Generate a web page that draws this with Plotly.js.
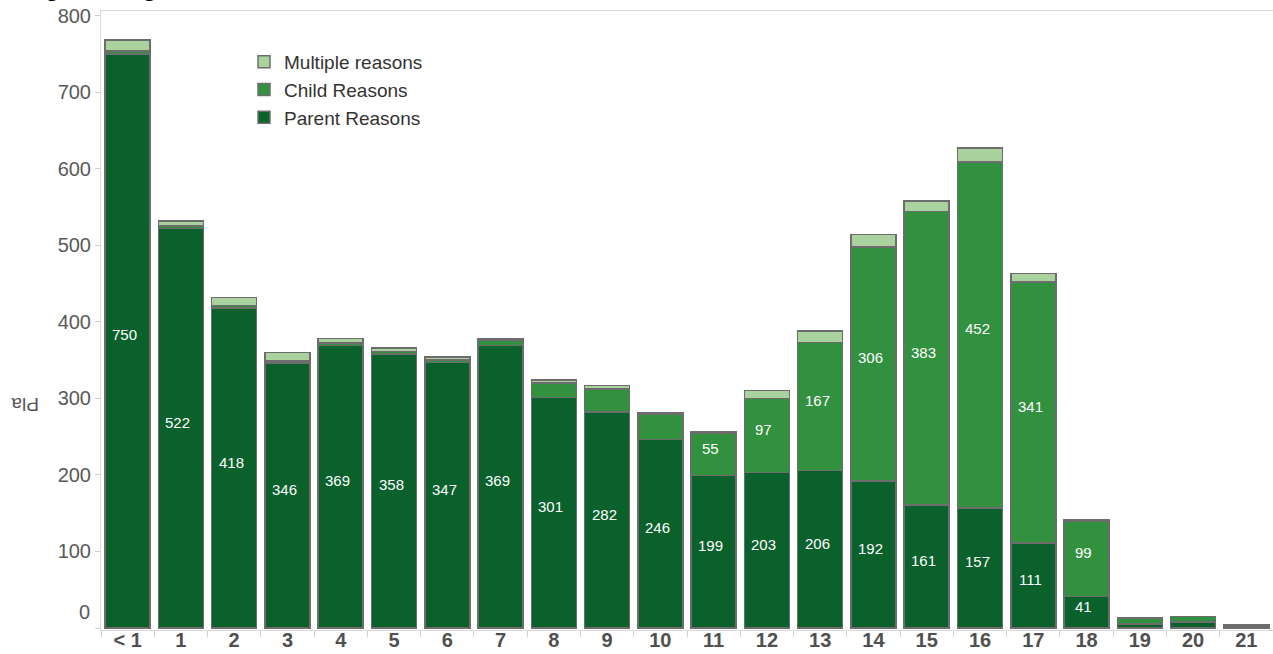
<!DOCTYPE html>
<html>
<head>
<meta charset="utf-8">
<script src="https://cdn.plot.ly/plotly-3.0.1.min.js"></script>
<style>
  html, body { margin: 0; padding: 0; background: #fff; }
  #chart { width: 1273px; height: 654px; }
</style>
</head>
<body>
<div id="chart"></div>
<script>
// ---- data ----
const ages = ["< 1", "1", "2", "3", "4", "5", "6", "7", "8", "9", "10",
              "11", "12", "13", "14", "15", "16", "17", "18", "19", "20", "21"];
const parentReasons   = [750, 522, 418, 346, 369, 358, 347, 369, 301, 282, 246,
                         199, 203, 206, 192, 161, 157, 111, 41, 5, 8, 2];
const childReasons    = [4, 3, 3, 3, 3, 3, 3, 7, 19, 30, 33,
                         55, 97, 167, 306, 383, 452, 341, 99, 8, 7, 1];
const multipleReasons = [14, 7, 11, 11, 6, 5, 4, 2, 4, 5, 2,
                         2, 10, 15, 16, 14, 18, 11, 1, 0, 0, 1];
const tickValsY = [0, 100, 200, 300, 400, 500, 600, 700, 800];
const tickTextY = ["", "100", "200", "300", "400", "500", "600", "700", "800"];
const titleText = "Stage and age";
const yTitleText = "Pla";

// ---- styling ----
const FONT = "Arial, Liberation Sans, sans-serif";
const colParent = "#0a612c";
const colChild = "#32913f";
const colMultiple = "#a9d29f";
const outline = { color: "#6d6d6d", width: 1.5 };

function barTrace(name, vals, color) {
  return {
    type: "bar", name: name, x: ages, y: vals,
    marker: { color: color, line: outline },
    hoverinfo: "x+y+name"
  };
}

const traces = [
  barTrace("Parent Reasons", parentReasons, colParent),
  barTrace("Child Reasons", childReasons, colChild),
  barTrace("Multiple reasons", multipleReasons, colMultiple)
];

const L = 101, T = 11, B = 24, W = 1273, H = 654;
const pw = W - L, ph = H - T - B;
const px2x = (px) => (px - L) / pw;
const px2y = (py) => (H - B - py) / ph;

// value labels, placed from the data through the axes
const annotations = [];
ages.forEach((a, i) => {
  if (parentReasons[i] >= 40) {
    annotations.push({ x: a, y: parentReasons[i] / 2, xref: "x", yref: "y",
      text: String(parentReasons[i]), showarrow: false, xshift: -3, yshift: 6,
      font: { family: FONT, size: 15, color: "#ffffff" } });
  }
  if (childReasons[i] >= 50) {
    annotations.push({ x: a, y: parentReasons[i] + childReasons[i] / 2, xref: "x", yref: "y",
      text: String(childReasons[i]), showarrow: false, xshift: -3, yshift: 6,
      font: { family: FONT, size: 15, color: "#ffffff" } });
  }
});
// shifted "0" tick label
annotations.push({ x: 0, xref: "paper", y: 0, yref: "y", xanchor: "right", yanchor: "middle",
  xshift: -9, yshift: 16, text: "0", showarrow: false,
  font: { family: FONT, size: 20, color: "#595959" } });
// clipped, upside-down axis title
annotations.push({ x: px2x(9), xref: "paper", y: px2y(405), yref: "paper", text: yTitleText,
  showarrow: false, textangle: 180,
  font: { family: FONT, size: 19, color: "#555555" } });
// chart title, pushed almost entirely above the page (only descenders show)
annotations.push({ x: px2x(6), xref: "paper", xanchor: "left", y: px2y(-12.5), yref: "paper",
  yanchor: "middle", text: titleText, showarrow: false,
  font: { family: FONT, size: 24, weight: "bold", color: "#000000" } });

const layout = {
  width: W, height: H,
  margin: { l: L, r: 0, t: T, b: B, pad: 0 },
  paper_bgcolor: "#ffffff", plot_bgcolor: "#ffffff",
  barmode: "stack", bargap: 0.155,
  font: { family: FONT, color: "#555555" },
  xaxis: {
    type: "category", range: [-0.5, ages.length - 0.5],
    showline: true, linecolor: "#d9d9d9", linewidth: 1, mirror: true,
    ticks: "outside", tickson: "boundaries", ticklen: 6, tickcolor: "#d0d0d0",
    ticklabelstandoff: -8,
    tickfont: { family: FONT, size: 20, weight: "bold", color: "#505050" },
    showgrid: false, zeroline: false, fixedrange: true
  },
  yaxis: {
    range: [-2.6, 806], showgrid: false, zeroline: false,
    showline: true, linecolor: "#d9d9d9", linewidth: 1,
    ticks: "outside", ticklen: 5, tickcolor: "#d0d0d0",
    tickvals: tickValsY, ticktext: tickTextY,
    tickfont: { family: FONT, size: 20, color: "#595959" },
    fixedrange: true
  },
  showlegend: true,
  legend: {
    x: px2x(244), xanchor: "left", y: px2y(43), yanchor: "top",
    traceorder: "reversed",
    bgcolor: "rgba(0,0,0,0)",
    font: { family: FONT, size: 19, color: "#333333" }
  },
  annotations: annotations
};

Plotly.newPlot("chart", traces, layout, { displayModeBar: false, staticPlot: true });
</script>
</body>
</html>
